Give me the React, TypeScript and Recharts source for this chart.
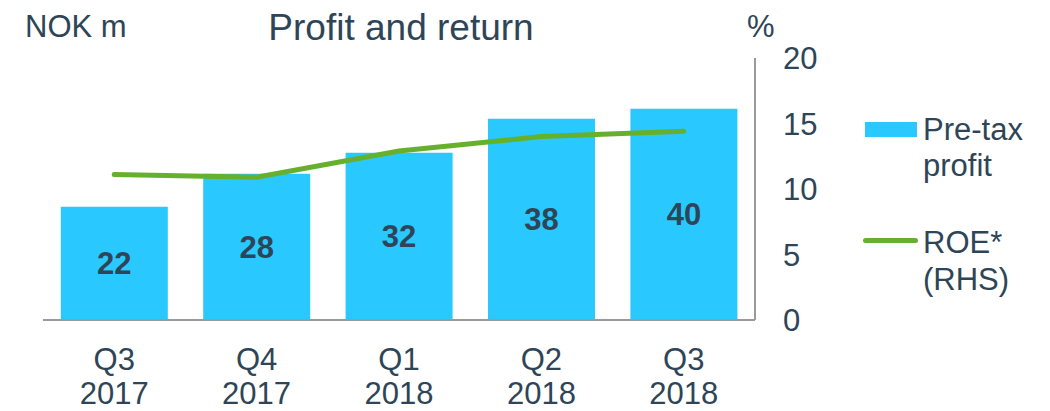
import { ComposedChart, Bar, Line, XAxis, YAxis, LabelList } from 'recharts'

const quarters = ['Q3', 'Q4', 'Q1', 'Q2', 'Q3']
const years = ['2017', '2017', '2018', '2018', '2018']
const preTaxProfit = [21.6, 27.9, 31.9, 38.4, 40.3]
const roe = [11.1, 10.9, 12.9, 14.0, 14.4]
const rightTicks = [0, 5, 10, 15, 20]

const TEXT = '#2E4557'
const BLUE = '#29C8FE'
const GREEN = '#67B02D'
const AXIS = '#9A9A9A'
const FONT = '"Liberation Sans", Arial, sans-serif'

const data = quarters.map((q, i) => ({
  key: `${q}-${years[i]}`,
  quarter: q,
  year: years[i],
  profit: preTaxProfit[i],
  roe: roe[i],
}))

function QuarterTick({ x, payload }: any) {
  const row = data.find(d => d.key === payload.value)
  return (
    <text textAnchor="middle" fontSize={31} fill={TEXT} fontFamily={FONT}>
      <tspan x={x} y={370}>{row?.quarter}</tspan>
      <tspan x={x} y={404}>{row?.year}</tspan>
    </text>
  )
}

function LegendBox() {
  const label = { fontSize: 31, color: TEXT, lineHeight: '36px' }
  return (
    <div style={{ position: 'absolute', left: 0, top: 0 }}>
      <div style={{ position: 'absolute', left: 865, top: 122, width: 52, height: 15, background: BLUE }} />
      <div style={{ position: 'absolute', left: 923, top: 112, ...label, whiteSpace: 'nowrap' }}>Pre-tax<br />profit</div>
      <div style={{ position: 'absolute', left: 863, top: 238, width: 55, height: 5, borderRadius: 3, background: GREEN }} />
      <div style={{ position: 'absolute', left: 923, top: 224, ...label, lineHeight: '37px', whiteSpace: 'nowrap' }}>ROE*<br />(RHS)</div>
    </div>
  )
}

export default function App() {
  return (
    <div style={{ position: 'absolute', left: 0, top: 0, width: 1050, height: 411, background: '#fff', fontFamily: FONT, overflow: 'hidden' }}>
      <ComposedChart
        width={1050}
        height={411}
        data={data}
        margin={{ top: 58, right: 235, bottom: 0, left: 43 }}
        barCategoryGap="12.5%"
      >
        <XAxis
          dataKey="key"
          axisLine={{ stroke: AXIS, strokeWidth: 2 }}
          tickLine={false}
          tick={<QuarterTick />}
          height={91}
          interval={0}
        />
        <YAxis
          yAxisId="left"
          domain={[0, 50]}
          width={0}
          tick={false}
          tickLine={false}
          axisLine={{ stroke: AXIS, strokeWidth: 2 }}
        />
        <YAxis
          yAxisId="right"
          orientation="right"
          domain={[0, 20]}
          ticks={rightTicks}
          width={60}
          tickSize={0}
          tickMargin={28}
          tickLine={false}
          axisLine={{ stroke: AXIS, strokeWidth: 2 }}
          tick={{ fontSize: 31, fill: TEXT, fontFamily: FONT, textAnchor: 'start' }}
        />
        <Bar yAxisId="left" dataKey="profit" fill={BLUE} isAnimationActive={false}>
          <LabelList
            dataKey="profit"
            position="center"
            formatter={(v: any) => Math.round(Number(v))}
            style={{ fontSize: 31, fontWeight: 'bold', fill: TEXT, fontFamily: FONT }}
          />
        </Bar>
        <Line
          yAxisId="right"
          dataKey="roe"
          stroke={GREEN}
          strokeWidth={5}
          strokeLinecap="round"
          dot={false}
          activeDot={false}
          type="linear"
          isAnimationActive={false}
        />
      </ComposedChart>
      <div style={{ position: 'absolute', left: 25, top: 11, fontSize: 31, lineHeight: 1, color: TEXT }}>NOK m</div>
      <div style={{ position: 'absolute', left: 0, width: 802, top: 9, textAlign: 'center', fontSize: 37, lineHeight: 1, color: TEXT }}>
        Profit and return
      </div>
      <div style={{ position: 'absolute', left: 747, top: 11, fontSize: 31, lineHeight: 1, color: TEXT }}>%</div>
      <LegendBox />
    </div>
  )
}
